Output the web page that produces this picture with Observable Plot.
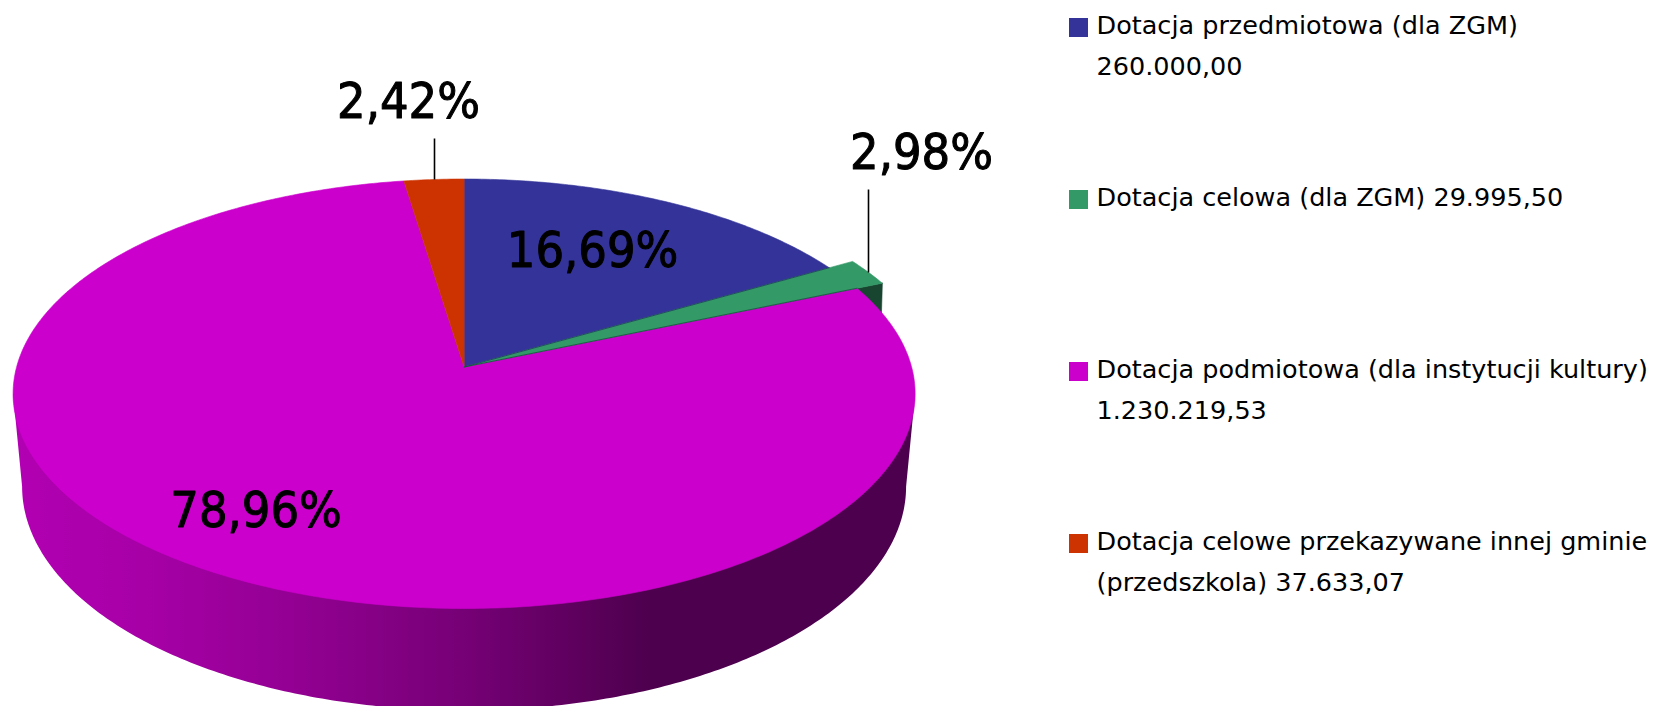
<!DOCTYPE html>
<html>
<head>
<meta charset="utf-8">
<style>html,body{margin:0;padding:0;background:#fff;overflow:hidden}svg{display:block}</style>
<script src="https://cdn.jsdelivr.net/npm/d3@7"></script>
<script src="https://cdn.jsdelivr.net/npm/@observablehq/plot@0.6"></script>
</head>
<body>
<div id="chart"></div>
<script>
// ---- data ----
const categories = ["Dotacja przedmiotowa (dla ZGM)\n260.000,00","Dotacja celowa (dla ZGM) 29.995,50","Dotacja podmiotowa (dla instytucji kultury)\n1.230.219,53","Dotacja celowe przekazywane innej gminie\n(przedszkola) 37.633,07"];
const values = [260000.00, 29995.50, 1230219.53, 37633.07];
const colors = ["#333399","#339966","#cc00cc","#cc3300"];
const percentLabels = ["16,69%","2,98%","78,96%","2,42%"];

// ---- layout ----
const W = 1656, H = 706;
const apex = {x:463.6, y:366.5}, A = 447.5, B = 211.4, K = 0.1246;      // perspective of the top face
const bottomRim = {x:463.6, y:486, rx:442, ry:224};
const wallDrop = 102;
const explode = [1, 1.068, 1, 1];
const labelPos = [{x:592,y:250},{x:921,y:152},{x:255.5,y:510},{x:408,y:101}];
const leaders = [{x:868,y1:189,y2:272},{x:434,y1:138,y2:179}];
const legendX = 1069, legendBox = 19, legendTextX = 1096, legendY = [18,190,362,534];

// ---- geometry derived from the values ----
const total = d3.sum(values);
let acc = 0;
const slices = values.map((v,i)=>{const a0=acc/total*2*Math.PI; acc+=v; return {i,a0,a1:acc/total*2*Math.PI};});
const proj = (a,r=1)=>{const u=Math.sin(a)*r,v=Math.cos(a)*r,w=1+K*v;return {x:apex.x+A*u/w,y:apex.y-B*v/w};};
const slicePoly = s=>{
  const n=Math.max(4,Math.ceil((s.a1-s.a0)*90)), pts=[{x:apex.x,y:apex.y}];
  for(let k=0;k<=n;k++) pts.push(proj(s.a0+(s.a1-s.a0)*k/n,explode[s.i]));
  pts.push({x:apex.x,y:apex.y});
  return pts;
};
const wallPts=[];
{ const steps=240;
  wallPts.push({x:apex.x-A/Math.sqrt(1-K*K),y:393.3});
  for(let k=0;k<=steps;k++){const t=Math.PI-Math.PI*k/steps;wallPts.push({x:bottomRim.x+bottomRim.rx*Math.cos(t),y:bottomRim.y+bottomRim.ry*Math.sin(t)});}
  wallPts.push({x:apex.x+A/Math.sqrt(1-K*K),y:393.3});
}
const g = slices[1];
const gTip = proj(g.a1,explode[1]), gIn = proj(g.a1,1);
const greenSide=[gTip,{x:gTip.x-3,y:gTip.y+wallDrop},{x:gIn.x,y:gIn.y+wallDrop},gIn,gTip];

const poly=(pts,fill,stroke=fill,sw=0.6)=>Plot.line(pts,{x:"x",y:"y",fill,stroke,strokeWidth:sw,curve:"linear"});
const order=[0,2,3,1];

const legendRows=categories.map((c,i)=>({c,i,y:legendY[i]}));
const plot=Plot.plot({
  width:W,height:H,margin:0,
  x:{domain:[0,W],range:[0,W],axis:null},
  y:{domain:[0,H],range:[0,H],axis:null},
  marks:[
    poly(wallPts,"url(#wall)","none",0),
    poly(greenSide,"#17452f"),
    ...order.map(i=>poly(slicePoly(slices[i]),colors[i])),
    Plot.line([{x:apex.x,y:apex.y},proj(g.a0,1)],{x:"x",y:"y",stroke:"#1c3f5a",strokeWidth:0.8}),
    Plot.line([{x:apex.x,y:apex.y},gIn],{x:"x",y:"y",stroke:"#1c4a40",strokeWidth:0.8}),
    Plot.link(leaders,{x1:"x",x2:"x",y1:"y1",y2:"y2",stroke:"#000",strokeWidth:1.6}),
    Plot.text(percentLabels.map((t,i)=>({t,...labelPos[i]})),{x:"x",y:"y",text:"t",fill:"#000",fontSize:50,textAnchor:"middle",lineAnchor:"middle",fontFamily:"'DejaVu Sans Condensed','DejaVu Sans'",stroke:"#000",strokeWidth:1}),
    Plot.rect(legendRows,{x1:()=>legendX,x2:()=>legendX+legendBox,y1:"y",y2:d=>d.y+legendBox,fill:d=>colors[d.i]}),
    Plot.text(legendRows,{x:()=>legendTextX,y:"y",text:"c",textAnchor:"start",lineAnchor:"top",dy:-13,fontSize:25.5,lineHeight:1.6,fill:"#000",fontFamily:"'DejaVu Sans'"})
  ]
});
plot.style.background="#fff";
const defs=d3.select(plot).append("defs").append("linearGradient").attr("id","wall").attr("gradientUnits","userSpaceOnUse").attr("x1",0).attr("x2",W).attr("y1",0).attr("y2",0);
[[0,"#b300b3"],[0.08,"#a800a8"],[0.18,"#920092"],[0.283,"#750075"],[0.394,"#4d004d"],[1,"#4d004d"]].forEach(([o,c])=>defs.append("stop").attr("offset",o).attr("stop-color",c));
document.getElementById("chart").appendChild(plot);
</script>
</body>
</html>
